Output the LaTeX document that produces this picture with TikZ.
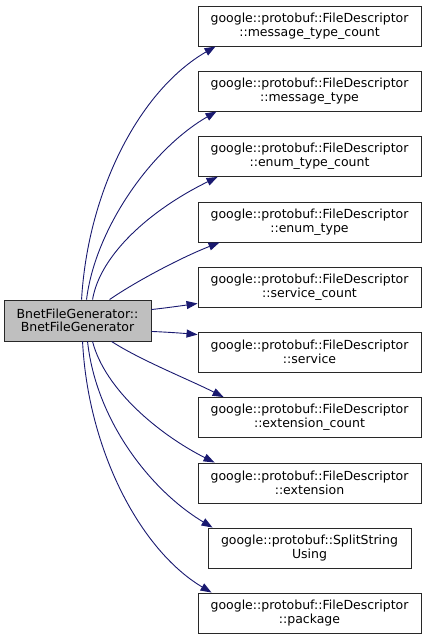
\documentclass[tikz,border=0pt]{standalone}
\usepackage{fontspec}
\setmainfont{DejaVu Sans}
\usetikzlibrary{arrows.meta,calc}
\definecolor{edgeblue}{RGB}{25,25,112}
\definecolor{boxgray}{RGB}{191,191,191}
\definecolor{boxline}{RGB}{40,40,40}
\begin{document}
\begin{tikzpicture}[x=1pt,y=-1pt,
  box/.style={draw=boxline, line width=0.9pt, fill=white, minimum width=223pt, minimum height=40pt,
    align=center, inner sep=0pt, font=\fontsize{12.5}{13.6}\selectfont},
  mainbox/.style={box, fill=boxgray, minimum width=147pt, minimum height=41pt},
  call/.style={draw=edgeblue, line width=0.9pt, -{Triangle[length=11pt,width=8pt]}}
]
\useasboundingbox (0,0) rectangle (425,640);
\node[mainbox] (m) at (77.5,320.5) {BnetFileGenerator::\\BnetFileGenerator};
\node[box] (b1) at (309.5,26) {google::protobuf::FileDescriptor\\::message\_type\_count};
\node[box] (b2) at (309.5,91) {google::protobuf::FileDescriptor\\::message\_type};
\node[box] (b3) at (309.5,156.5) {google::protobuf::FileDescriptor\\::enum\_type\_count};
\node[box] (b4) at (309.5,222) {google::protobuf::FileDescriptor\\::enum\_type};
\node[box] (b5) at (309.5,287) {google::protobuf::FileDescriptor\\::service\_count};
\node[box] (b6) at (309.5,352) {google::protobuf::FileDescriptor\\::service};
\node[box] (b7) at (309.5,417.5) {google::protobuf::FileDescriptor\\::extension\_count};
\node[box] (b8) at (309.5,483) {google::protobuf::FileDescriptor\\::extension};
\node[box, minimum width=203pt] (b9) at (309.5,548) {google::protobuf::SplitString\\Using};
\node[box] (b10) at (309.5,613) {google::protobuf::FileDescriptor\\::package};
% upper
\draw[call] ($(m.north west)+(78,0)$) .. controls (88,190) and (140,90) .. ($(b1.south west)+(18,0)$);
\draw[call] ($(m.north west)+(83,0)$) .. controls (95,230) and (150,150) .. ($(b2.south west)+(19,0)$);
\draw[call] ($(m.north west)+(89,0)$) .. controls (100,255) and (150,210) .. ($(b3.south west)+(20,0)$);
\draw[call] ($(m.north west)+(106,0)$) .. controls (135,282) and (180,258) .. ($(b4.south west)+(22,0)$);
\draw[call] ($(m.north east)+(0,10)$) .. controls (165,308) and (180,306) .. ($(b5.south west)+(0,-4)$);
\draw[call] ($(m.south east)+(0,-10)$) .. controls (165,332) and (180,333) .. ($(b6.north west)+(0,3)$);
% lower
\draw[call] ($(m.south west)+(108,0)$) .. controls (140,360) and (190,380) .. ($(b7.north west)+(26,0)$);
\draw[call] ($(m.south west)+(89,0)$) .. controls (105,390) and (160,435) .. ($(b8.north west)+(17,0)$);
\draw[call] ($(m.south west)+(84,0)$) .. controls (96,420) and (150,490) .. ($(b9.north west)+(5,0)$);
\draw[call] ($(m.south west)+(79,0)$) .. controls (88,450) and (140,550) .. ($(b10.north west)+(14,0)$);
\end{tikzpicture}
\end{document}
